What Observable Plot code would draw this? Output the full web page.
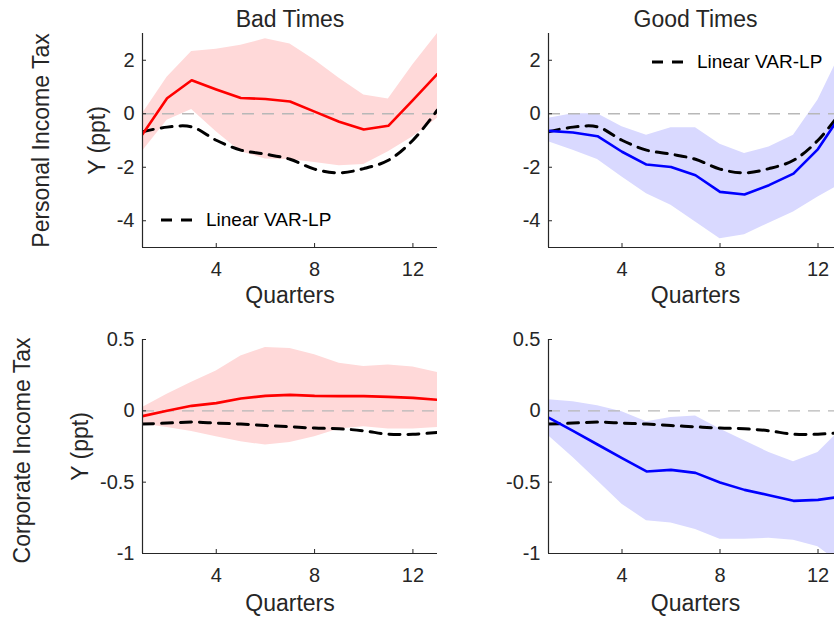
<!DOCTYPE html>
<html>
<head>
<meta charset="utf-8">
<script src="https://cdn.jsdelivr.net/npm/d3@7"></script>
<script src="https://cdn.jsdelivr.net/npm/@observablehq/plot@0.6"></script>
<style>
  html, body { margin: 0; padding: 0; background: #fff; overflow: hidden; }
  #fig { position: relative; width: 834px; height: 618px; overflow: hidden; background: #fff; }
  .panel { position: absolute; }
  .panel svg { max-width: none !important; }
</style>
</head>
<body>
<div id="fig"></div>
<script>
// ---------- data ----------
const quarters = [1, 2, 3, 4, 5, 6, 7, 8, 9, 10, 11, 12, 13];
const xTicks = [4, 8, 12];
const pitTicks = [-4, -2, 0, 2];
const citTicks = [-1, -0.5, 0, 0.5];
const colTitles = ["Bad Times", "Good Times"];
const rowTitles = ["Personal Income Tax", "Corporate Income Tax"];
const xLabel = "Quarters";
const yLabel = "Y (ppt)";
const legendLabel = "Linear VAR-LP";

// Personal income tax
const pitLinear  = [-0.67, -0.50, -0.49, -0.99, -1.36, -1.51, -1.70, -2.07, -2.21, -2.05, -1.74, -0.99, 0.14];
const pitBadIrf  = [-0.77, 0.58, 1.25, 0.91, 0.59, 0.55, 0.46, 0.08, -0.30, -0.59, -0.45, 0.51, 1.49];
const pitBadLo   = [-1.40, -0.24, 0.16, -0.67, -1.42, -1.69, -1.71, -1.82, -1.94, -1.90, -1.42, -0.86, -0.17];
const pitBadHi   = [0.00, 1.36, 2.33, 2.41, 2.56, 2.80, 2.61, 2.01, 1.33, 0.70, 0.55, 1.83, 3.00];
const pitGoodIrf = [-0.64, -0.70, -0.84, -1.42, -1.90, -1.99, -2.30, -2.92, -3.02, -2.67, -2.24, -1.32, 0.05];
const pitGoodLo  = [-1.05, -1.36, -1.71, -2.36, -2.99, -3.42, -4.05, -4.67, -4.52, -4.09, -3.67, -3.11, -2.60];
const pitGoodHi  = [-0.17, 0.00, 0.00, -0.49, -0.80, -0.52, -0.52, -1.14, -1.49, -1.24, -0.80, 0.51, 2.40];

// Corporate income tax
const citLinear  = [-0.093, -0.086, -0.079, -0.086, -0.093, -0.103, -0.112, -0.121, -0.126, -0.140, -0.164, -0.164, -0.152];
const citBadIrf  = [-0.037, 0.000, 0.035, 0.054, 0.086, 0.105, 0.112, 0.105, 0.103, 0.103, 0.098, 0.091, 0.077];
const citBadLo   = [-0.093, -0.117, -0.145, -0.182, -0.217, -0.240, -0.222, -0.182, -0.128, -0.112, -0.128, -0.128, -0.117];
const citBadHi   = [0.023, 0.117, 0.200, 0.280, 0.385, 0.444, 0.437, 0.393, 0.334, 0.310, 0.322, 0.308, 0.269];
const citGoodIrf = [-0.047, -0.140, -0.236, -0.332, -0.425, -0.414, -0.435, -0.502, -0.554, -0.591, -0.631, -0.624, -0.600];
const citGoodLo  = [-0.175, -0.327, -0.490, -0.654, -0.771, -0.787, -0.832, -0.900, -0.900, -0.893, -0.907, -0.953, -1.080];
const citGoodHi  = [0.077, 0.063, 0.035, -0.007, -0.077, -0.047, -0.037, -0.128, -0.210, -0.292, -0.357, -0.292, -0.120];

// ---------- drawing ----------
const FONT = "'Liberation Sans', Arial, Helvetica, sans-serif";
const INK = "#262626";

function panel(cfg) {
  const rows = quarters.map((q, i) => ({q, irf: cfg.irf[i], lo: cfg.lo[i], hi: cfg.hi[i], lin: cfg.lin[i]}));
  const {width, height, margin} = cfg;
  const innerW = width - margin.left - margin.right;
  const innerH = height - margin.top - margin.bottom;
  const [y0, y1] = cfg.yDomain;
  const tickY = (y1 - y0) * 4 / innerH;     // 4px inward tick length in y units
  const tickX = (13 - 1) * 4 / innerW;      // 4px inward tick length in x units

  const marks = [
    Plot.areaY(rows, {x: "q", y1: "lo", y2: "hi", fill: cfg.band, clip: true}),
    Plot.ruleY([0], {stroke: "#b8b8b8", strokeWidth: 1.3, strokeDasharray: "12,8"}),
    Plot.line(rows, {x: "q", y: "lin", stroke: "#000", strokeWidth: 3, strokeDasharray: "11,8", curve: "catmull-rom", clip: true}),
    Plot.line(rows, {x: "q", y: "irf", stroke: cfg.color, strokeWidth: 2.6, clip: true}),
    Plot.ruleX([1], {stroke: INK, strokeWidth: 1.2}),
    Plot.ruleY([y0], {stroke: INK, strokeWidth: 1.2}),
    Plot.ruleX(xTicks, {x: d => d, y1: y0, y2: y0 + tickY, stroke: INK, strokeWidth: 1}),
    Plot.ruleY(cfg.yTicks, {y: d => d, x1: 1, x2: 1 + tickX, stroke: INK, strokeWidth: 1}),
    Plot.text([cfg.title], {text: d => d, frameAnchor: "top", textAnchor: "middle", lineAnchor: "bottom", dy: -7, fontSize: 23, fill: INK}),
    Plot.text([xLabel], {text: d => d, frameAnchor: "bottom", textAnchor: "middle", lineAnchor: "bottom", dy: cfg.xLabelDy, fontSize: 23, fill: INK})
  ];
  if (cfg.showY) {
    marks.push(Plot.text([yLabel], {text: d => d, frameAnchor: "left", textAnchor: "middle", rotate: -90, lineAnchor: "bottom", dx: cfg.yLabelDx, fontSize: 23, fill: INK}));
    marks.push(Plot.text([cfg.row], {text: d => d, frameAnchor: "left", textAnchor: "middle", rotate: -90, lineAnchor: "bottom", dx: cfg.rowDx, dy: cfg.rowDy || 0, fontSize: 23, fill: INK}));
  }

  const svg = Plot.plot({
    width, height,
    marginTop: margin.top, marginRight: margin.right, marginBottom: margin.bottom, marginLeft: margin.left,
    style: {fontFamily: FONT, fontSize: "20px", color: INK, background: "transparent", overflow: "visible", maxWidth: "none"},
    x: {domain: [1, 13], ticks: xTicks, tickSize: 0, tickPadding: 14, label: null, tickFormat: d => String(d)},
    y: {domain: cfg.yDomain, ticks: cfg.yTicks, tickSize: 0, tickPadding: 8, label: null, tickFormat: d => String(d)},
    marks
  });
  svg.style.maxWidth = "none";
  svg.style.width = width + "px";
  svg.style.height = height + "px";

  if (cfg.legend) {
    const L = cfg.legend;
    const g = d3.select(svg).append("g");
    g.append("line")
      .attr("x1", L.x).attr("x2", L.x + 32).attr("y1", L.y).attr("y2", L.y)
      .attr("stroke", "#000").attr("stroke-width", 3).attr("stroke-dasharray", "11,9");
    g.append("text")
      .attr("x", L.x + 45).attr("y", L.y).attr("dy", "0.34em")
      .attr("text-anchor", "start")
      .attr("font-family", FONT).attr("font-size", 19).attr("fill", "#000")
      .text(legendLabel);
  }

  const div = document.createElement("div");
  div.className = "panel";
  div.style.left = cfg.left + "px";
  div.style.top = cfg.top + "px";
  div.style.width = width + "px";
  div.style.height = height + "px";
  div.appendChild(svg);
  document.getElementById("fig").appendChild(div);
}

const pink = "#ffd9d9";
const lilac = "#d9d9ff";

panel({
  left: 0, top: 0, width: 450, height: 310,
  margin: {top: 33, right: 13, bottom: 63, left: 142},
  yDomain: [-5, 3], yTicks: pitTicks,
  irf: pitBadIrf, lo: pitBadLo, hi: pitBadHi, lin: pitLinear,
  color: "#ff0000", band: pink, title: colTitles[0],
  showY: true, row: rowTitles[0], yLabelDx: -38, rowDx: -94, xLabelDy: 55,
  legend: {x: 161, y: 220}
});
panel({
  left: 430, top: 0, width: 425, height: 310,
  margin: {top: 33, right: 13, bottom: 63, left: 118},
  yDomain: [-5, 3], yTicks: pitTicks,
  irf: pitGoodIrf, lo: pitGoodLo, hi: pitGoodHi, lin: pitLinear,
  color: "#0000ff", band: lilac, title: colTitles[1],
  showY: false, xLabelDy: 55,
  legend: {x: 222, y: 62}
});
panel({
  left: 0, top: 310, width: 450, height: 308,
  margin: {top: 29, right: 13, bottom: 65, left: 142},
  yDomain: [-1, 0.5], yTicks: citTicks,
  irf: citBadIrf, lo: citBadLo, hi: citBadHi, lin: citLinear,
  color: "#ff0000", band: pink, title: "",
  showY: true, row: rowTitles[1], yLabelDx: -54.5, rowDx: -112.5, rowDy: 4, xLabelDy: 57
});
panel({
  left: 430, top: 310, width: 425, height: 308,
  margin: {top: 29, right: 13, bottom: 65, left: 118},
  yDomain: [-1, 0.5], yTicks: citTicks,
  irf: citGoodIrf, lo: citGoodLo, hi: citGoodHi, lin: citLinear,
  color: "#0000ff", band: lilac, title: "",
  showY: false, xLabelDy: 57
});
</script>
</body>
</html>
